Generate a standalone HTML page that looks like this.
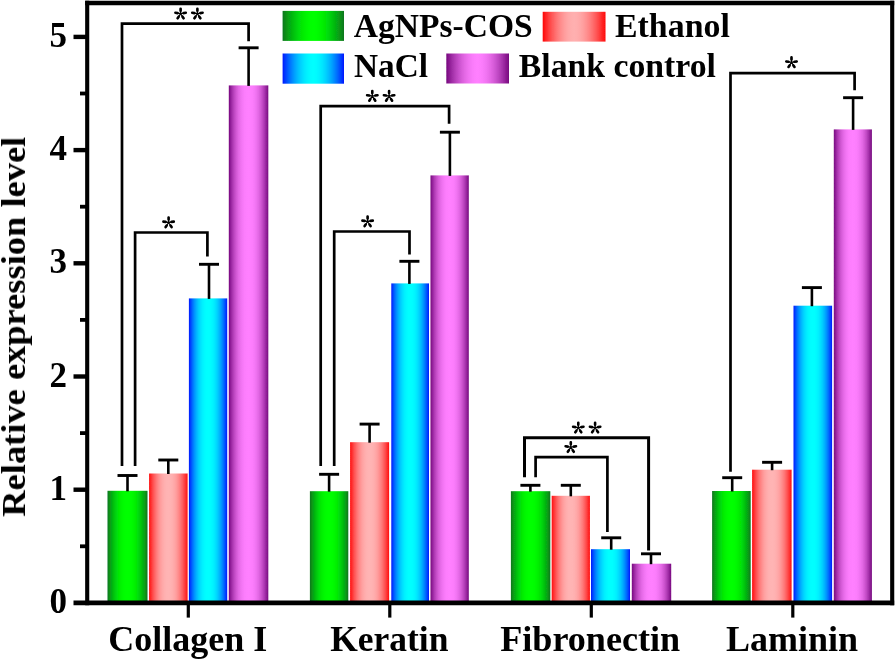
<!DOCTYPE html>
<html><head><meta charset="utf-8"><title>chart</title>
<style>
html,body{margin:0;padding:0;background:#fff;}
body{width:896px;height:660px;overflow:hidden;font-family:"Liberation Serif",serif;}
svg{display:block}
text{font-family:"Liberation Serif",serif;font-weight:bold;fill:#000;stroke:none}
</style></head><body>
<svg width="896" height="660" viewBox="0 0 896 660">
<defs>
<linearGradient id="g" x1="0" x2="1" y1="0" y2="0"><stop offset="0.000" stop-color="rgb(10,118,30)"/><stop offset="0.050" stop-color="rgb(8,146,24)"/><stop offset="0.100" stop-color="rgb(6,171,18)"/><stop offset="0.150" stop-color="rgb(5,192,14)"/><stop offset="0.200" stop-color="rgb(3,210,10)"/><stop offset="0.250" stop-color="rgb(2,225,7)"/><stop offset="0.300" stop-color="rgb(1,237,4)"/><stop offset="0.350" stop-color="rgb(1,245,2)"/><stop offset="0.400" stop-color="rgb(0,251,1)"/><stop offset="0.450" stop-color="rgb(0,254,0)"/><stop offset="0.500" stop-color="rgb(0,255,0)"/><stop offset="0.550" stop-color="rgb(0,254,0)"/><stop offset="0.600" stop-color="rgb(0,251,1)"/><stop offset="0.650" stop-color="rgb(1,245,2)"/><stop offset="0.700" stop-color="rgb(1,237,4)"/><stop offset="0.750" stop-color="rgb(2,225,7)"/><stop offset="0.800" stop-color="rgb(3,210,10)"/><stop offset="0.850" stop-color="rgb(5,192,14)"/><stop offset="0.900" stop-color="rgb(6,171,18)"/><stop offset="0.950" stop-color="rgb(8,146,24)"/><stop offset="1.000" stop-color="rgb(10,118,30)"/></linearGradient>
<linearGradient id="r" x1="0" x2="1" y1="0" y2="0"><stop offset="0.000" stop-color="rgb(255,12,12)"/><stop offset="0.050" stop-color="rgb(255,47,47)"/><stop offset="0.100" stop-color="rgb(255,77,77)"/><stop offset="0.150" stop-color="rgb(255,103,103)"/><stop offset="0.200" stop-color="rgb(255,125,125)"/><stop offset="0.250" stop-color="rgb(255,143,143)"/><stop offset="0.300" stop-color="rgb(255,158,158)"/><stop offset="0.350" stop-color="rgb(255,168,168)"/><stop offset="0.400" stop-color="rgb(255,175,175)"/><stop offset="0.450" stop-color="rgb(255,179,179)"/><stop offset="0.500" stop-color="rgb(255,180,180)"/><stop offset="0.550" stop-color="rgb(255,179,179)"/><stop offset="0.600" stop-color="rgb(255,175,175)"/><stop offset="0.650" stop-color="rgb(255,168,168)"/><stop offset="0.700" stop-color="rgb(255,158,158)"/><stop offset="0.750" stop-color="rgb(255,143,143)"/><stop offset="0.800" stop-color="rgb(255,125,125)"/><stop offset="0.850" stop-color="rgb(255,103,103)"/><stop offset="0.900" stop-color="rgb(255,77,77)"/><stop offset="0.950" stop-color="rgb(255,47,47)"/><stop offset="1.000" stop-color="rgb(255,12,12)"/></linearGradient>
<linearGradient id="b" x1="0" x2="1" y1="0" y2="0"><stop offset="0.000" stop-color="rgb(0,24,255)"/><stop offset="0.050" stop-color="rgb(0,72,255)"/><stop offset="0.100" stop-color="rgb(0,114,255)"/><stop offset="0.150" stop-color="rgb(0,150,255)"/><stop offset="0.200" stop-color="rgb(0,180,255)"/><stop offset="0.250" stop-color="rgb(0,205,255)"/><stop offset="0.300" stop-color="rgb(0,224,255)"/><stop offset="0.350" stop-color="rgb(0,239,255)"/><stop offset="0.400" stop-color="rgb(0,248,255)"/><stop offset="0.450" stop-color="rgb(0,254,255)"/><stop offset="0.500" stop-color="rgb(0,255,255)"/><stop offset="0.550" stop-color="rgb(0,254,255)"/><stop offset="0.600" stop-color="rgb(0,248,255)"/><stop offset="0.650" stop-color="rgb(0,239,255)"/><stop offset="0.700" stop-color="rgb(0,224,255)"/><stop offset="0.750" stop-color="rgb(0,205,255)"/><stop offset="0.800" stop-color="rgb(0,180,255)"/><stop offset="0.850" stop-color="rgb(0,150,255)"/><stop offset="0.900" stop-color="rgb(0,114,255)"/><stop offset="0.950" stop-color="rgb(0,72,255)"/><stop offset="1.000" stop-color="rgb(0,24,255)"/></linearGradient>
<linearGradient id="p" x1="0" x2="1" y1="0" y2="0"><stop offset="0.000" stop-color="rgb(118,8,126)"/><stop offset="0.050" stop-color="rgb(147,34,154)"/><stop offset="0.100" stop-color="rgb(173,56,178)"/><stop offset="0.150" stop-color="rgb(195,75,198)"/><stop offset="0.200" stop-color="rgb(213,91,215)"/><stop offset="0.250" stop-color="rgb(227,104,229)"/><stop offset="0.300" stop-color="rgb(238,113,239)"/><stop offset="0.350" stop-color="rgb(246,120,247)"/><stop offset="0.400" stop-color="rgb(252,125,252)"/><stop offset="0.450" stop-color="rgb(254,127,254)"/><stop offset="0.500" stop-color="rgb(255,128,255)"/><stop offset="0.550" stop-color="rgb(254,127,254)"/><stop offset="0.600" stop-color="rgb(252,125,252)"/><stop offset="0.650" stop-color="rgb(246,120,247)"/><stop offset="0.700" stop-color="rgb(238,113,239)"/><stop offset="0.750" stop-color="rgb(227,104,229)"/><stop offset="0.800" stop-color="rgb(213,91,215)"/><stop offset="0.850" stop-color="rgb(195,75,198)"/><stop offset="0.900" stop-color="rgb(173,56,178)"/><stop offset="0.950" stop-color="rgb(147,34,154)"/><stop offset="1.000" stop-color="rgb(118,8,126)"/></linearGradient>
<linearGradient id="lg" x1="0" x2="1" y1="0" y2="0"><stop offset="0.000" stop-color="rgb(10,118,30)"/><stop offset="0.050" stop-color="rgb(8,142,25)"/><stop offset="0.100" stop-color="rgb(7,163,20)"/><stop offset="0.150" stop-color="rgb(5,183,16)"/><stop offset="0.200" stop-color="rgb(4,200,12)"/><stop offset="0.250" stop-color="rgb(3,216,9)"/><stop offset="0.300" stop-color="rgb(2,229,6)"/><stop offset="0.350" stop-color="rgb(1,239,3)"/><stop offset="0.400" stop-color="rgb(1,247,2)"/><stop offset="0.450" stop-color="rgb(0,253,0)"/><stop offset="0.500" stop-color="rgb(0,255,0)"/><stop offset="0.550" stop-color="rgb(0,253,0)"/><stop offset="0.600" stop-color="rgb(1,247,2)"/><stop offset="0.650" stop-color="rgb(1,239,3)"/><stop offset="0.700" stop-color="rgb(2,229,6)"/><stop offset="0.750" stop-color="rgb(3,216,9)"/><stop offset="0.800" stop-color="rgb(4,200,12)"/><stop offset="0.850" stop-color="rgb(5,183,16)"/><stop offset="0.900" stop-color="rgb(7,163,20)"/><stop offset="0.950" stop-color="rgb(8,142,25)"/><stop offset="1.000" stop-color="rgb(10,118,30)"/></linearGradient>
<linearGradient id="lr" x1="0" x2="1" y1="0" y2="0"><stop offset="0.000" stop-color="rgb(255,8,8)"/><stop offset="0.050" stop-color="rgb(255,37,37)"/><stop offset="0.100" stop-color="rgb(255,64,64)"/><stop offset="0.150" stop-color="rgb(255,88,88)"/><stop offset="0.200" stop-color="rgb(255,109,109)"/><stop offset="0.250" stop-color="rgb(255,128,128)"/><stop offset="0.300" stop-color="rgb(255,144,144)"/><stop offset="0.350" stop-color="rgb(255,157,157)"/><stop offset="0.400" stop-color="rgb(255,167,167)"/><stop offset="0.450" stop-color="rgb(255,173,173)"/><stop offset="0.500" stop-color="rgb(255,176,176)"/><stop offset="0.550" stop-color="rgb(255,173,173)"/><stop offset="0.600" stop-color="rgb(255,167,167)"/><stop offset="0.650" stop-color="rgb(255,157,157)"/><stop offset="0.700" stop-color="rgb(255,144,144)"/><stop offset="0.750" stop-color="rgb(255,128,128)"/><stop offset="0.800" stop-color="rgb(255,109,109)"/><stop offset="0.850" stop-color="rgb(255,88,88)"/><stop offset="0.900" stop-color="rgb(255,64,64)"/><stop offset="0.950" stop-color="rgb(255,37,37)"/><stop offset="1.000" stop-color="rgb(255,8,8)"/></linearGradient>
<linearGradient id="lb" x1="0" x2="1" y1="0" y2="0"><stop offset="0.000" stop-color="rgb(0,24,255)"/><stop offset="0.050" stop-color="rgb(0,64,255)"/><stop offset="0.100" stop-color="rgb(0,100,255)"/><stop offset="0.150" stop-color="rgb(0,133,255)"/><stop offset="0.200" stop-color="rgb(0,163,255)"/><stop offset="0.250" stop-color="rgb(0,189,255)"/><stop offset="0.300" stop-color="rgb(0,211,255)"/><stop offset="0.350" stop-color="rgb(0,229,255)"/><stop offset="0.400" stop-color="rgb(0,242,255)"/><stop offset="0.450" stop-color="rgb(0,251,255)"/><stop offset="0.500" stop-color="rgb(0,255,255)"/><stop offset="0.550" stop-color="rgb(0,251,255)"/><stop offset="0.600" stop-color="rgb(0,242,255)"/><stop offset="0.650" stop-color="rgb(0,229,255)"/><stop offset="0.700" stop-color="rgb(0,211,255)"/><stop offset="0.750" stop-color="rgb(0,189,255)"/><stop offset="0.800" stop-color="rgb(0,163,255)"/><stop offset="0.850" stop-color="rgb(0,133,255)"/><stop offset="0.900" stop-color="rgb(0,100,255)"/><stop offset="0.950" stop-color="rgb(0,64,255)"/><stop offset="1.000" stop-color="rgb(0,24,255)"/></linearGradient>
<linearGradient id="lp" x1="0" x2="1" y1="0" y2="0"><stop offset="0.000" stop-color="rgb(118,8,126)"/><stop offset="0.050" stop-color="rgb(142,29,148)"/><stop offset="0.100" stop-color="rgb(163,48,169)"/><stop offset="0.150" stop-color="rgb(183,65,187)"/><stop offset="0.200" stop-color="rgb(200,80,204)"/><stop offset="0.250" stop-color="rgb(216,94,218)"/><stop offset="0.300" stop-color="rgb(229,105,230)"/><stop offset="0.350" stop-color="rgb(239,114,240)"/><stop offset="0.400" stop-color="rgb(247,121,248)"/><stop offset="0.450" stop-color="rgb(253,126,253)"/><stop offset="0.500" stop-color="rgb(255,128,255)"/><stop offset="0.550" stop-color="rgb(253,126,253)"/><stop offset="0.600" stop-color="rgb(247,121,248)"/><stop offset="0.650" stop-color="rgb(239,114,240)"/><stop offset="0.700" stop-color="rgb(229,105,230)"/><stop offset="0.750" stop-color="rgb(216,94,218)"/><stop offset="0.800" stop-color="rgb(200,80,204)"/><stop offset="0.850" stop-color="rgb(183,65,187)"/><stop offset="0.900" stop-color="rgb(163,48,169)"/><stop offset="0.950" stop-color="rgb(142,29,148)"/><stop offset="1.000" stop-color="rgb(118,8,126)"/></linearGradient>
<filter id="bl" x="-5%" y="-5%" width="110%" height="110%"><feGaussianBlur stdDeviation="0.55"/></filter>
</defs>
<rect width="896" height="660" fill="#fff"/>
<g filter="url(#bl)">

<rect x="107.5" y="490.8" width="40.0" height="112.1" fill="url(#g)"/>
<path d="M127.5 491.3V475.5" stroke="#000" stroke-width="2.6" fill="none"/>
<path d="M117.5 475.5H137.5" stroke="#000" stroke-width="2.9" fill="none"/>
<rect x="149.1" y="473.5" width="38.5" height="129.4" fill="url(#r)"/>
<path d="M168.3 474.0V460.0" stroke="#000" stroke-width="2.6" fill="none"/>
<path d="M158.3 460.0H178.3" stroke="#000" stroke-width="2.9" fill="none"/>
<rect x="188.9" y="298.4" width="38.3" height="304.5" fill="url(#b)"/>
<path d="M209.0 298.9V264.3" stroke="#000" stroke-width="2.6" fill="none"/>
<path d="M199.0 264.3H219.0" stroke="#000" stroke-width="2.9" fill="none"/>
<rect x="228.8" y="85.4" width="39.5" height="517.5" fill="url(#p)"/>
<path d="M248.6 85.9V47.8" stroke="#000" stroke-width="2.6" fill="none"/>
<path d="M238.6 47.8H258.6" stroke="#000" stroke-width="2.9" fill="none"/>
<rect x="309.9" y="491.2" width="38.4" height="111.7" fill="url(#g)"/>
<path d="M329.1 491.7V474.3" stroke="#000" stroke-width="2.6" fill="none"/>
<path d="M319.1 474.3H339.1" stroke="#000" stroke-width="2.9" fill="none"/>
<rect x="350.1" y="442.2" width="39.0" height="160.7" fill="url(#r)"/>
<path d="M369.6 442.7V424.1" stroke="#000" stroke-width="2.6" fill="none"/>
<path d="M359.6 424.1H379.6" stroke="#000" stroke-width="2.9" fill="none"/>
<rect x="391.3" y="283.4" width="37.7" height="319.5" fill="url(#b)"/>
<path d="M409.4 283.9V261.3" stroke="#000" stroke-width="2.6" fill="none"/>
<path d="M399.4 261.3H419.4" stroke="#000" stroke-width="2.9" fill="none"/>
<rect x="430.5" y="175.4" width="38.3" height="427.5" fill="url(#p)"/>
<path d="M449.9 175.9V132.2" stroke="#000" stroke-width="2.6" fill="none"/>
<path d="M439.9 132.2H459.9" stroke="#000" stroke-width="2.9" fill="none"/>
<rect x="510.9" y="491.2" width="39.4" height="111.7" fill="url(#g)"/>
<path d="M530.4 491.7V485.3" stroke="#000" stroke-width="2.6" fill="none"/>
<path d="M520.4 485.3H540.4" stroke="#000" stroke-width="2.9" fill="none"/>
<rect x="551.7" y="495.8" width="38.2" height="107.1" fill="url(#r)"/>
<path d="M570.8 496.3V485.3" stroke="#000" stroke-width="2.6" fill="none"/>
<path d="M560.8 485.3H580.8" stroke="#000" stroke-width="2.9" fill="none"/>
<rect x="591.0" y="549.2" width="39.0" height="53.7" fill="url(#b)"/>
<path d="M611.2 549.7V537.8" stroke="#000" stroke-width="2.6" fill="none"/>
<path d="M601.2 537.8H621.2" stroke="#000" stroke-width="2.9" fill="none"/>
<rect x="631.8" y="563.7" width="39.4" height="39.2" fill="url(#p)"/>
<path d="M651.0 564.2V553.8" stroke="#000" stroke-width="2.6" fill="none"/>
<path d="M641.0 553.8H661.0" stroke="#000" stroke-width="2.9" fill="none"/>
<rect x="712.1" y="491.0" width="38.6" height="111.9" fill="url(#g)"/>
<path d="M732.2 491.5V477.7" stroke="#000" stroke-width="2.6" fill="none"/>
<path d="M722.2 477.7H742.2" stroke="#000" stroke-width="2.9" fill="none"/>
<rect x="752.1" y="469.7" width="39.5" height="133.2" fill="url(#r)"/>
<path d="M772.1 470.2V462.3" stroke="#000" stroke-width="2.6" fill="none"/>
<path d="M762.1 462.3H782.1" stroke="#000" stroke-width="2.9" fill="none"/>
<rect x="793.5" y="305.7" width="38.6" height="297.2" fill="url(#b)"/>
<path d="M811.9 306.2V287.6" stroke="#000" stroke-width="2.6" fill="none"/>
<path d="M801.9 287.6H821.9" stroke="#000" stroke-width="2.9" fill="none"/>
<rect x="833.8" y="129.4" width="38.1" height="473.5" fill="url(#p)"/>
<path d="M853.1 129.9V97.7" stroke="#000" stroke-width="2.6" fill="none"/>
<path d="M843.1 97.7H863.1" stroke="#000" stroke-width="2.9" fill="none"/>
<path d="M87.2 0.7V605.3M892.2 0.7V605.3" stroke="#000" stroke-width="4.1" fill="none"/>
<path d="M85.2 3.0H894.2" stroke="#000" stroke-width="4.3" fill="none"/>
<path d="M73.5 602.9H894.2" stroke="#000" stroke-width="4.8" fill="none"/>
<path d="M73.5 489.7H87" stroke="#000" stroke-width="4.4"/>
<path d="M73.5 376.5H87" stroke="#000" stroke-width="4.4"/>
<path d="M73.5 263.3H87" stroke="#000" stroke-width="4.4"/>
<path d="M73.5 150.1H87" stroke="#000" stroke-width="4.4"/>
<path d="M73.5 36.9H87" stroke="#000" stroke-width="4.4"/>
<path d="M80 546.3H87" stroke="#000" stroke-width="3.8"/>
<path d="M80 433.1H87" stroke="#000" stroke-width="3.8"/>
<path d="M80 319.9H87" stroke="#000" stroke-width="3.8"/>
<path d="M80 206.7H87" stroke="#000" stroke-width="3.8"/>
<path d="M80 93.5H87" stroke="#000" stroke-width="3.8"/>
<text x="67" y="612.9" font-size="35" text-anchor="end" style="stroke:none">0</text>
<text x="67" y="499.7" font-size="35" text-anchor="end" style="stroke:none">1</text>
<text x="67" y="386.5" font-size="35" text-anchor="end" style="stroke:none">2</text>
<text x="67" y="273.3" font-size="35" text-anchor="end" style="stroke:none">3</text>
<text x="67" y="160.1" font-size="35" text-anchor="end" style="stroke:none">4</text>
<text x="67" y="46.9" font-size="35" text-anchor="end" style="stroke:none">5</text>
<path d="M188.3 603V617.6" stroke="#000" stroke-width="3.2"/>
<text x="108.2" y="651.2" font-size="36" textLength="159.0" lengthAdjust="spacingAndGlyphs">Collagen I</text>
<path d="M389.8 603V617.6" stroke="#000" stroke-width="3.2"/>
<text x="330.2" y="651.2" font-size="36" textLength="118.3" lengthAdjust="spacingAndGlyphs">Keratin</text>
<path d="M591.3 603V617.6" stroke="#000" stroke-width="3.2"/>
<text x="500.2" y="651.2" font-size="36" textLength="180.0" lengthAdjust="spacingAndGlyphs">Fibronectin</text>
<path d="M792.8 603V617.6" stroke="#000" stroke-width="3.2"/>
<text x="725.9" y="651.2" font-size="36" textLength="132.1" lengthAdjust="spacingAndGlyphs">Laminin</text>
<text transform="translate(25,516.7) rotate(-90)" font-size="34" textLength="380" lengthAdjust="spacingAndGlyphs">Relative expression level</text>
<rect x="282.6" y="10.9" width="61.4" height="30" fill="url(#lg)"/>
<text x="353.8" y="36.8" font-size="33.8" textLength="178.9" lengthAdjust="spacingAndGlyphs">AgNPs-COS</text>
<rect x="542.7" y="11.8" width="62.8" height="29.8" fill="url(#lr)"/>
<text x="615.0" y="36.8" font-size="33.8" textLength="114.8" lengthAdjust="spacingAndGlyphs">Ethanol</text>
<rect x="282.6" y="53.5" width="61.4" height="30.2" fill="url(#lb)"/>
<text x="354.0" y="77.1" font-size="33.8" textLength="74.0" lengthAdjust="spacingAndGlyphs">NaCl</text>
<rect x="446.3" y="53.5" width="62.7" height="30" fill="url(#lp)"/>
<text x="518.8" y="77.1" font-size="33.8" textLength="197.1" lengthAdjust="spacingAndGlyphs">Blank control</text>
<path d="M122 466V23.7H248.6V41.2" stroke="#000" stroke-width="2.7" fill="none"/>
<g transform="translate(180.6 13.7)" stroke="#000" stroke-linecap="round" fill="none"><path d="M0 0V-5M0 0L-5.2 -0.9M0 0L5.2 -0.9M0 0L-3 4.6M0 0L3 4.6" stroke-width="1.3"/><path d="M0 -3V-5M-3 -0.6L-5.2 -0.9M3 -0.6L5.2 -0.9M-1.9 3L-3 4.6M1.9 3L3 4.6" stroke-width="2.6"/></g>
<g transform="translate(197.4 13.7)" stroke="#000" stroke-linecap="round" fill="none"><path d="M0 0V-5M0 0L-5.2 -0.9M0 0L5.2 -0.9M0 0L-3 4.6M0 0L3 4.6" stroke-width="1.3"/><path d="M0 -3V-5M-3 -0.6L-5.2 -0.9M3 -0.6L5.2 -0.9M-1.9 3L-3 4.6M1.9 3L3 4.6" stroke-width="2.6"/></g>
<path d="M135.1 466V232.5H207.4V256.6" stroke="#000" stroke-width="2.7" fill="none"/>
<g transform="translate(168.6 222.5)" stroke="#000" stroke-linecap="round" fill="none"><path d="M0 0V-5M0 0L-5.2 -0.9M0 0L5.2 -0.9M0 0L-3 4.6M0 0L3 4.6" stroke-width="1.3"/><path d="M0 -3V-5M-3 -0.6L-5.2 -0.9M3 -0.6L5.2 -0.9M-1.9 3L-3 4.6M1.9 3L3 4.6" stroke-width="2.6"/></g>
<path d="M320.7 466V106.1H449.1V123.8" stroke="#000" stroke-width="2.7" fill="none"/>
<g transform="translate(372.3 96.1)" stroke="#000" stroke-linecap="round" fill="none"><path d="M0 0V-5M0 0L-5.2 -0.9M0 0L5.2 -0.9M0 0L-3 4.6M0 0L3 4.6" stroke-width="1.3"/><path d="M0 -3V-5M-3 -0.6L-5.2 -0.9M3 -0.6L5.2 -0.9M-1.9 3L-3 4.6M1.9 3L3 4.6" stroke-width="2.6"/></g>
<g transform="translate(389.1 96.1)" stroke="#000" stroke-linecap="round" fill="none"><path d="M0 0V-5M0 0L-5.2 -0.9M0 0L5.2 -0.9M0 0L-3 4.6M0 0L3 4.6" stroke-width="1.3"/><path d="M0 -3V-5M-3 -0.6L-5.2 -0.9M3 -0.6L5.2 -0.9M-1.9 3L-3 4.6M1.9 3L3 4.6" stroke-width="2.6"/></g>
<path d="M334.2 466V231.5H409.5V254.6" stroke="#000" stroke-width="2.7" fill="none"/>
<g transform="translate(367.6 221.5)" stroke="#000" stroke-linecap="round" fill="none"><path d="M0 0V-5M0 0L-5.2 -0.9M0 0L5.2 -0.9M0 0L-3 4.6M0 0L3 4.6" stroke-width="1.3"/><path d="M0 -3V-5M-3 -0.6L-5.2 -0.9M3 -0.6L5.2 -0.9M-1.9 3L-3 4.6M1.9 3L3 4.6" stroke-width="2.6"/></g>
<path d="M524.5 477.3V437.7H648.6V550.6" stroke="#000" stroke-width="3.0" fill="none"/>
<g transform="translate(578.3 427.7)" stroke="#000" stroke-linecap="round" fill="none"><path d="M0 0V-5M0 0L-5.2 -0.9M0 0L5.2 -0.9M0 0L-3 4.6M0 0L3 4.6" stroke-width="1.3"/><path d="M0 -3V-5M-3 -0.6L-5.2 -0.9M3 -0.6L5.2 -0.9M-1.9 3L-3 4.6M1.9 3L3 4.6" stroke-width="2.6"/></g>
<g transform="translate(595.1 427.7)" stroke="#000" stroke-linecap="round" fill="none"><path d="M0 0V-5M0 0L-5.2 -0.9M0 0L5.2 -0.9M0 0L-3 4.6M0 0L3 4.6" stroke-width="1.3"/><path d="M0 -3V-5M-3 -0.6L-5.2 -0.9M3 -0.6L5.2 -0.9M-1.9 3L-3 4.6M1.9 3L3 4.6" stroke-width="2.6"/></g>
<path d="M535.6 477.3V457.2H607.4V532" stroke="#000" stroke-width="2.7" fill="none"/>
<g transform="translate(570.8 447.2)" stroke="#000" stroke-linecap="round" fill="none"><path d="M0 0V-5M0 0L-5.2 -0.9M0 0L5.2 -0.9M0 0L-3 4.6M0 0L3 4.6" stroke-width="1.3"/><path d="M0 -3V-5M-3 -0.6L-5.2 -0.9M3 -0.6L5.2 -0.9M-1.9 3L-3 4.6M1.9 3L3 4.6" stroke-width="2.6"/></g>
<path d="M730.5 471.7V73.1H854.6V90.2" stroke="#000" stroke-width="2.7" fill="none"/>
<g transform="translate(791.5 62.4)" stroke="#000" stroke-linecap="round" fill="none"><path d="M0 0V-5M0 0L-5.2 -0.9M0 0L5.2 -0.9M0 0L-3 4.6M0 0L3 4.6" stroke-width="1.3"/><path d="M0 -3V-5M-3 -0.6L-5.2 -0.9M3 -0.6L5.2 -0.9M-1.9 3L-3 4.6M1.9 3L3 4.6" stroke-width="2.6"/></g>
</g></svg></body></html>
